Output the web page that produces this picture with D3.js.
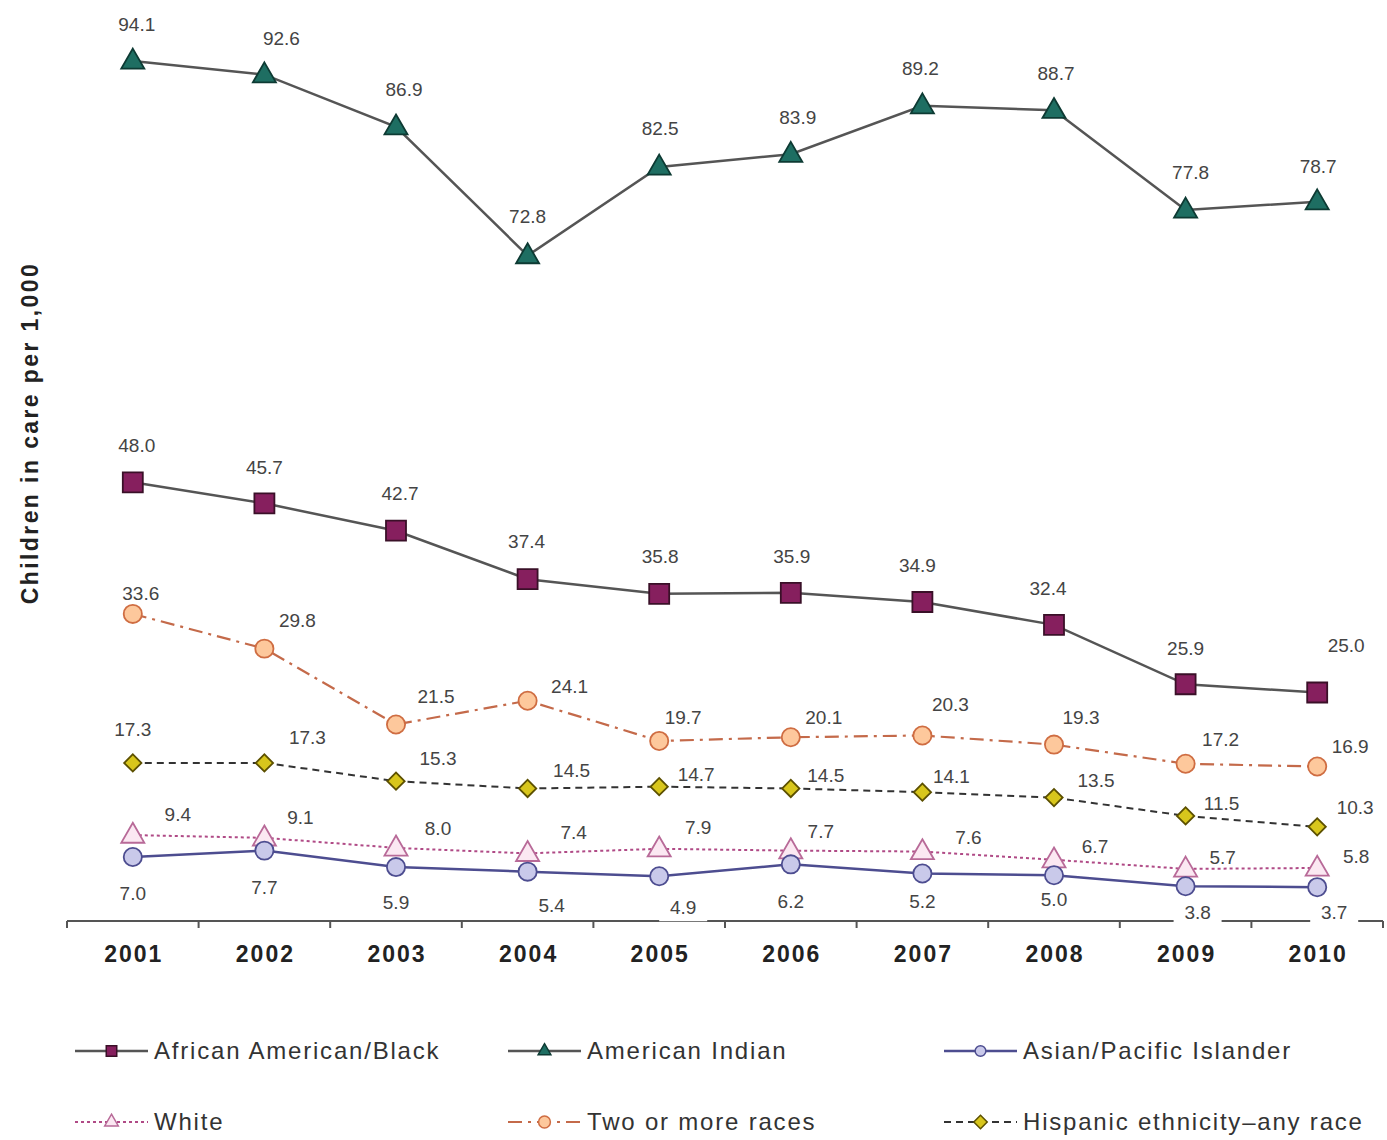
<!DOCTYPE html>
<html>
<head>
<meta charset="utf-8">
<script src="https://cdn.jsdelivr.net/npm/d3@7"></script>
<style>
  body { margin: 0; background: #fff; }
  svg { display: block; font-family: "Liberation Sans", Arial, sans-serif; }
</style>
</head>
<body>
<svg id="chart" width="1387" height="1140"></svg>
<script>
// ---------- data ----------
const years = ["2001","2002","2003","2004","2005","2006","2007","2008","2009","2010"];
const seriesNames = ["African American/Black","American Indian","Asian/Pacific Islander","White","Two or more races","Hispanic ethnicity\u2013any race"];
const africanAmerican = [48.0,45.7,42.7,37.4,35.8,35.9,34.9,32.4,25.9,25.0];
const americanIndian  = [94.1,92.6,86.9,72.8,82.5,83.9,89.2,88.7,77.8,78.7];
const asianPacific    = [7.0,7.7,5.9,5.4,4.9,6.2,5.2,5.0,3.8,3.7];
const white           = [9.4,9.1,8.0,7.4,7.9,7.7,7.6,6.7,5.7,5.8];
const twoOrMore       = [33.6,29.8,21.5,24.1,19.7,20.1,20.3,19.3,17.2,16.9];
const hispanic        = [17.3,17.3,15.3,14.5,14.7,14.5,14.1,13.5,11.5,10.3];
const yTitle = "Children in care per 1,000";

// ---------- label placement (offsets from marker, px) ----------
const labelOffsets = {
  african: [[4,-37],[0,-36],[4,-37],[-1,-38],[1,-37],[1,-37],[-5,-37],[-6,-37],[0,-36],[29,-47]],
  amind:   [[4,-37],[17,-36],[8,-37],[0,-39],[1,-39],[7,-37],[-2,-37],[2,-37],[5,-38],[1,-35]],
  asian:   [[0,36],[0,37],[0,35],[24,34],[24,31],[0,37],[0,28],[0,24],[12,26],[17,25]],
  white:   [[45,-21],[36,-20],[42,-20],[46,-21],[39,-21],[30,-19],[46,-14],[41,-13],[37,-12],[39,-12]],
  two:     [[8,-21],[33,-28],[40,-28],[42,-14],[24,-24],[33,-20],[28,-31],[27,-27],[35,-24],[33,-20]],
  hisp:    [[0,-34],[43,-26],[42,-23],[44,-18],[37,-12],[35,-13],[29,-16],[42,-17],[36,-13],[38,-20]]
};
const asianLabelBg = [false,false,false,true,true,false,false,false,true,true];

// ---------- styles ----------
const series = [
  {key:"african", name:seriesNames[0], values:africanAmerican, line:"#555", lw:2.5, dash:null,
   shape:"square", size:400, fill:"#861f5e", stroke:"#3a1028", legSize:110},
  {key:"amind", name:seriesNames[1], values:americanIndian, line:"#555", lw:2.5, dash:null,
   shape:"triangle", size:230, fill:"#1e6e62", stroke:"#0d3a33", legSize:70},
  {key:"asian", name:seriesNames[2], values:asianPacific, line:"#4d4d90", lw:2.5, dash:null,
   shape:"circle", size:260, fill:"#c9c9ea", stroke:"#4d4d90", legSize:90},
  {key:"white", name:seriesNames[3], values:white, line:"#b04a86", lw:2, dash:"3,3",
   shape:"triangle", size:230, fill:"#fbe8f2", stroke:"#b86a98", legSize:80},
  {key:"two", name:seriesNames[4], values:twoOrMore, line:"#c46a4a", lw:2.2, dash:"14,6,3,6",
   shape:"circle", size:260, fill:"#fdc89c", stroke:"#cf6d42", legSize:110},
  {key:"hisp", name:seriesNames[5], values:hispanic, line:"#333", lw:2, dash:"7,5",
   shape:"diamond", size:150, fill:"#d8c61c", stroke:"#5c5000", legSize:90}
];

const svg = d3.select("#chart");
const x = d3.scaleBand().domain(years).range([67, 1383]).padding(0);
const y = d3.scaleLinear().domain([0, 100]).range([921, 7]);
const cx = d => x(d) + x.bandwidth() / 2;

function symbolPath(shape, size) {
  if (shape === "square") return d3.symbol(d3.symbolSquare, size)();
  if (shape === "triangle") return d3.symbol(d3.symbolTriangle, size)();
  if (shape === "circle") return d3.symbol(d3.symbolCircle, size)();
  if (shape === "diamond") return d3.symbol(d3.symbolSquare, size)();
}

// ---------- axis ----------
const axisG = svg.append("g").attr("transform", `translate(0,${y(0)})`);
axisG.append("line").attr("x1", x.range()[0]).attr("x2", x.range()[1])
  .attr("y1", 0).attr("y2", 0).attr("stroke", "#555").attr("stroke-width", 2);
const boundaries = years.map(d => x(d)).concat([x.range()[1]]);
axisG.selectAll("line.tick").data(boundaries).enter().append("line")
  .attr("class", "tick").attr("x1", d => d).attr("x2", d => d)
  .attr("y1", 0).attr("y2", 7).attr("stroke", "#555").attr("stroke-width", 2);
const xAxis = d3.axisBottom(x).tickSize(0).tickPadding(0);
const xa = svg.append("g").attr("transform", `translate(0,${y(0)})`).call(xAxis);
xa.select(".domain").remove();
xa.selectAll("text").attr("y", 33).attr("dy", "0.35em").attr("dx", "1px")
  .style("font-family", "'Liberation Sans', Arial, sans-serif")
  .style("font-size", "23px").style("font-weight", "bold").style("letter-spacing", "2px")
  .attr("fill", "#222");

// y title
svg.append("text").attr("transform", "translate(38,433) rotate(-90)")
  .attr("text-anchor", "middle").attr("font-size", "23px").attr("font-weight", "bold")
  .style("letter-spacing", "2.4px")
  .attr("fill", "#222").text(yTitle);

// ---------- lines ----------
const lineGen = d3.line().x((d, i) => cx(years[i])).y(d => y(d));
const drawOrder = ["two","hisp","white","asian","african","amind"];
drawOrder.forEach(k => {
  const s = series.find(t => t.key === k);
  svg.append("path").datum(s.values).attr("d", lineGen)
    .attr("fill", "none").attr("stroke", s.line).attr("stroke-width", s.lw)
    .attr("stroke-dasharray", s.dash);
});

// ---------- markers ----------
drawOrder.forEach(k => {
  const s = series.find(t => t.key === k);
  svg.append("g").selectAll("path").data(s.values).enter().append("path")
    .attr("d", symbolPath(s.shape, s.size))
    .attr("transform", (d, i) => `translate(${cx(years[i])},${y(d) + (s.shape === "triangle" ? 1 : 0)})` + (s.shape === "diamond" ? " rotate(45)" : ""))
    .attr("fill", s.fill).attr("stroke", s.stroke).attr("stroke-width", 1.8);
});

// ---------- value labels ----------
series.forEach(s => {
  const g = svg.append("g");
  s.values.forEach((v, i) => {
    const off = labelOffsets[s.key][i];
    const lx = cx(years[i]) + off[0], ly = y(v) + off[1];
    if (s.key === "asian" && asianLabelBg[i]) {
      g.append("rect").attr("x", lx - 24).attr("y", ly - 13).attr("width", 48).attr("height", 27)
        .attr("fill", "#fff");
    }
    g.append("text").attr("x", lx).attr("y", ly).attr("text-anchor", "middle")
      .attr("dy", "0.35em").attr("font-size", "19px").attr("fill", "#444")
      .text(v.toFixed(1));
  });
});

// ---------- legend ----------
const legendCols = [75, 508, 944];
const legendRows = [1051, 1122];
series.forEach((s, i) => {
  const lx = legendCols[i % 3], ly = legendRows[Math.floor(i / 3)];
  const g = svg.append("g").attr("transform", `translate(${lx},${ly})`);
  g.append("line").attr("x1", 0).attr("x2", 73).attr("y1", 0).attr("y2", 0)
    .attr("stroke", s.line).attr("stroke-width", s.lw).attr("stroke-dasharray", s.dash);
  g.append("path").attr("d", symbolPath(s.shape, s.legSize))
    .attr("transform", `translate(36.5,0)` + (s.shape === "diamond" ? " rotate(45)" : ""))
    .attr("fill", s.fill).attr("stroke", s.stroke).attr("stroke-width", 1.5);
  g.append("text").attr("x", 79).attr("y", 0).attr("dy", "0.35em")
    .attr("font-size", "24px").style("letter-spacing", "1.8px")
    .attr("fill", "#333").text(s.name);
});
</script>
</body>
</html>
